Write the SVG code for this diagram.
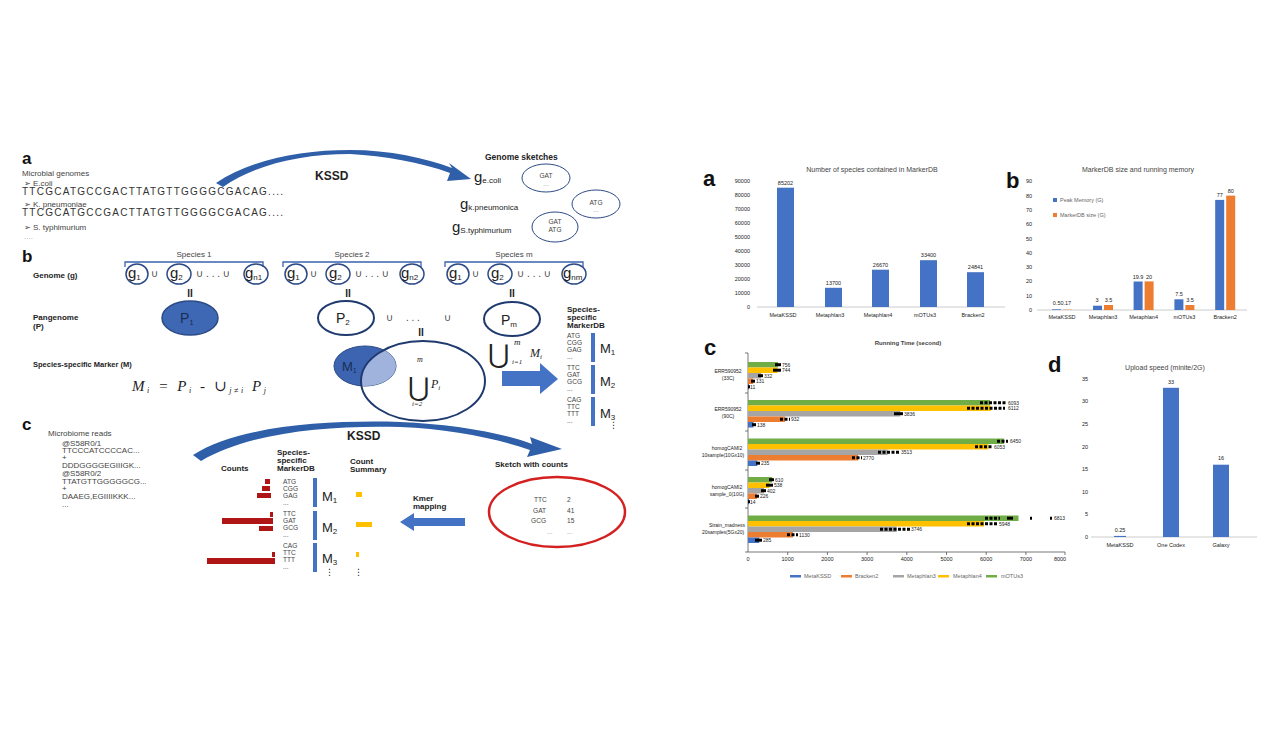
<svg xmlns="http://www.w3.org/2000/svg" width="1269" height="749" viewBox="0 0 1269 749">
<style>
text{font-family:"Liberation Sans","DejaVu Sans",Arial,sans-serif;fill:#222}
.lbl{font-weight:bold;font-size:20px;fill:#111}
.b8{font-weight:bold;font-size:8px}
.s8{font-size:8px;fill:#444}
.seq{font-size:10px;fill:#333}
.mk{font-size:6.6px;fill:#444}
.g{font-size:15px;fill:#222}
.sub{font-size:8px}
.ax{font-size:5.5px;fill:#666}
.tt{font-size:7px;fill:#444}
.vl{font-size:5.5px;fill:#555}
.math{font-family:"Liberation Serif","DejaVu Serif",serif;font-style:italic}
.ring{fill:none;stroke:#2c4a86;stroke-width:1.5}
.ring2{fill:none;stroke:#1f3a6e;stroke-width:2}
.bar{fill:#4472C4}
.org{fill:#ED7D31}
.gry{fill:#A5A5A5}
.yel{fill:#FFC000}
.grn{fill:#70AD47}
.axl{stroke:#bfbfbf;stroke-width:0.8}
.eb{stroke:#000;stroke-width:3;stroke-dasharray:3 1.5}
.ebs{stroke:#000;stroke-width:3}
</style>
<defs>
<clipPath id="bigc"><ellipse cx="423" cy="381" rx="62" ry="40"/></clipPath>
</defs>

<!-- ================= LEFT PANEL a ================= -->
<g id="left-a">
<text class="lbl" x="22" y="164" style="font-size:17px">a</text>
<text class="s8" x="22" y="176">Microbial genomes</text>
<text class="s8" x="24" y="186">➢ E.coli</text>
<text class="seq" x="22" y="195" textLength="261" lengthAdjust="spacing">TTCGCATGCCGACTTATGTTGGGGCGACAG....</text>
<text class="s8" x="24" y="207">➢ K. pneumoniae</text>
<text class="seq" x="22" y="216" textLength="261" lengthAdjust="spacing">TTCGCATGCCGACTTATGTTGGGGCGACAG....</text>
<text class="s8" x="24" y="230">➢ S. typhimurium</text>
<text class="s8" x="24" y="239" style="fill:#aaa">....</text>
</g>
<g id="kssd-arc-a">
<path d="M216,183 C250,160 300,150 350,150 C390,150 425,158 452,168 L449,163 L471,179 L447,181 L450,173 C420,162 385,156 350,154 C300,154 255,165 223,187 Z" fill="#2f5fa8"/>
<text x="315" y="180" style="font-weight:bold;font-size:12px">KSSD</text>
</g>
<g id="sketches">
<text x="485" y="160" class="b8" style="font-size:8.5px">Genome sketches</text>
<text class="g" x="474" y="182">g<tspan class="sub" dy="1">e.coli</tspan></text>
<ellipse class="ring" cx="546" cy="178" rx="24" ry="14" style="stroke-width:1"/>
<text class="mk" x="546" y="178" text-anchor="middle">GAT</text>
<text class="mk" x="546" y="186" text-anchor="middle" style="fill:#999">...</text>
<text class="g" x="460" y="209">g<tspan class="sub" dy="1">k.pneumonica</tspan></text>
<ellipse class="ring" cx="596" cy="204" rx="24" ry="14" style="stroke-width:1"/>
<text class="mk" x="596" y="205" text-anchor="middle">ATG</text>
<text class="mk" x="596" y="212" text-anchor="middle" style="fill:#999">...</text>
<text class="g" x="452" y="232">g<tspan class="sub" dy="1">S.typhimurium</tspan></text>
<ellipse class="ring" cx="555" cy="227" rx="23" ry="15" style="stroke-width:1"/>
<text class="mk" x="555" y="224" text-anchor="middle">GAT</text>
<text class="mk" x="555" y="232" text-anchor="middle">ATG</text>
</g>

<!-- ================= LEFT PANEL b ================= -->
<g id="left-b">
<text class="lbl" x="22" y="262" style="font-size:17px">b</text>
<text class="s8" x="194" y="257" text-anchor="middle">Species 1</text>
<text class="s8" x="352" y="257" text-anchor="middle">Species 2</text>
<text class="s8" x="514" y="257" text-anchor="middle">Species m</text>
<g fill="none" stroke="#3a62ad" stroke-width="1.3">
<path d="M125,267 L125,262 L263,262 L263,267"/>
<path d="M283,267 L283,262 L421,262 L421,267"/>
<path d="M445,267 L445,262 L583,262 L583,267"/>
</g>
<text class="b8" x="33" y="278">Genome (g)</text>
</g>
<g id="genomes">
<g id="sp1">
<ellipse class="ring" cx="137" cy="274" rx="11" ry="10"/><text class="g" x="128" y="278">g<tspan class="sub" dy="2">1</tspan></text>
<text class="s8" x="151" y="277" style="font-size:10px">∪</text>
<ellipse class="ring" cx="179" cy="274" rx="12" ry="10"/><text class="g" x="170" y="278">g<tspan class="sub" dy="2">2</tspan></text>
<text class="s8" x="196" y="277" style="font-size:10px">∪ . . . ∪</text>
<ellipse class="ring" cx="256" cy="274" rx="12" ry="10"/><text class="g" x="245" y="278">g<tspan class="sub" dy="2">n1</tspan></text>
</g>
<g id="sp2">
<ellipse class="ring" cx="296" cy="274" rx="11" ry="10"/><text class="g" x="287" y="278">g<tspan class="sub" dy="2">1</tspan></text>
<text class="s8" x="310" y="277" style="font-size:10px">∪</text>
<ellipse class="ring" cx="338" cy="274" rx="12" ry="10"/><text class="g" x="329" y="278">g<tspan class="sub" dy="2">2</tspan></text>
<text class="s8" x="355" y="277" style="font-size:10px">∪ . . . ∪</text>
<ellipse class="ring" cx="412" cy="274" rx="12" ry="10"/><text class="g" x="401" y="278">g<tspan class="sub" dy="2">n2</tspan></text>
</g>
<g id="spm">
<ellipse class="ring" cx="458" cy="274" rx="11" ry="10"/><text class="g" x="449" y="278">g<tspan class="sub" dy="2">1</tspan></text>
<text class="s8" x="472" y="277" style="font-size:10px">∪</text>
<ellipse class="ring" cx="500" cy="274" rx="12" ry="10"/><text class="g" x="491" y="278">g<tspan class="sub" dy="2">2</tspan></text>
<text class="s8" x="517" y="277" style="font-size:10px">∪ . . . ∪</text>
<ellipse class="ring" cx="574" cy="274" rx="12" ry="10"/><text class="g" x="563" y="278">g<tspan class="sub" dy="2">nm</tspan></text>
</g>
</g>
<g id="equals">
<text x="190" y="297" text-anchor="middle" style="font-size:10px;font-weight:bold">II</text>
<text x="348" y="297" text-anchor="middle" style="font-size:10px;font-weight:bold">II</text>
<text x="512" y="297" text-anchor="middle" style="font-size:10px;font-weight:bold">II</text>
<text x="421" y="336" text-anchor="middle" style="font-size:10px;font-weight:bold">II</text>
</g>
<g id="pangenome">
<text class="b8" x="33" y="320">Pangenome</text>
<text class="b8" x="33" y="329">(P)</text>
<ellipse cx="190" cy="318" rx="28" ry="17" fill="#3f68b4" stroke="#2c4a86" stroke-width="1.5"/>
<text x="180" y="323" style="font-size:14px;fill:#1a2d55">P<tspan style="font-size:8px" dy="2">1</tspan></text>
<ellipse class="ring2" cx="346" cy="318" rx="28" ry="17"/>
<text x="336" y="323" style="font-size:14px">P<tspan style="font-size:8px" dy="2">2</tspan></text>
<text x="386" y="321" style="font-size:10px;fill:#444">∪</text>
<text x="406" y="321" style="font-size:10px;fill:#444">. . .</text>
<text x="444" y="321" style="font-size:10px;fill:#444">∪</text>
<ellipse class="ring2" cx="512" cy="319" rx="28" ry="17"/>
<text x="501" y="325" style="font-size:14px">P<tspan style="font-size:8px" dy="2">m</tspan></text>
</g>
<g id="marker-formula">
<text class="b8" x="33" y="367" style="font-size:7.5px">Species-specific Marker (M)</text>
<text class="math" x="132" y="391" style="font-size:15px" textLength="134" lengthAdjust="spacing">M<tspan style="font-size:8px" dy="2">i</tspan><tspan dy="-2"> = P</tspan><tspan style="font-size:8px" dy="2">i</tspan><tspan dy="-2" style="font-style:normal"> - ∪</tspan><tspan style="font-size:8px" dy="2">j≠i</tspan><tspan dy="-2"> P</tspan><tspan style="font-size:8px" dy="2">j</tspan></text>
</g>
<g id="venn">
<ellipse cx="365" cy="366" rx="31" ry="20" fill="#3d64b0" stroke="#2c4a86" stroke-width="1"/>
<ellipse cx="365" cy="366" rx="31" ry="20" fill="#9fb3dc" clip-path="url(#bigc)"/>
<ellipse class="ring2" cx="423" cy="381" rx="62" ry="40"/>
<text x="342" y="371" style="font-size:13px;fill:#1a2d55">M<tspan style="font-size:7px" dy="2">1</tspan></text>
<text x="408" y="396" style="font-family:'DejaVu Serif',serif;font-size:26px">⋃</text>
<text class="math" x="417" y="362" style="font-size:8px">m</text>
<text class="math" x="412" y="406" style="font-size:7px">i=2</text>
<text class="math" x="431" y="388" style="font-size:12px">P<tspan style="font-size:7px" dy="2">i</tspan></text>
</g>
<g id="union-arrow">
<text x="488" y="363" style="font-family:'DejaVu Serif',serif;font-size:26px">⋃</text>
<text class="math" x="514" y="345" style="font-size:9px">m</text>
<text class="math" x="512" y="364" style="font-size:7px">i=1</text>
<text class="math" x="530" y="357" style="font-size:12px">M<tspan style="font-size:7px" dy="2">i</tspan></text>
<path d="M502,371 L540,371 L540,363 L558,379 L540,394 L540,386 L502,386 Z" fill="#4472C4"/>
</g>
<g id="markerdb-b">
<text class="b8" x="567" y="312">Species-</text>
<text class="b8" x="567" y="320">specific</text>
<text class="b8" x="567" y="328">MarkerDB</text>
<text class="mk" x="567" y="338">ATG</text><text class="mk" x="567" y="345">CGG</text><text class="mk" x="567" y="352">GAG</text><text class="mk" x="567" y="359">...</text>
<rect class="bar" x="591" y="333" width="4" height="29"/>
<text x="600" y="353" style="font-size:13px">M<tspan style="font-size:8px" dy="2">1</tspan></text>
<text class="mk" x="567" y="370">TTC</text><text class="mk" x="567" y="377">GAT</text><text class="mk" x="567" y="384">GCG</text><text class="mk" x="567" y="391">...</text>
<rect class="bar" x="591" y="365" width="4" height="29"/>
<text x="600" y="386" style="font-size:13px">M<tspan style="font-size:8px" dy="2">2</tspan></text>
<text class="mk" x="567" y="402">CAG</text><text class="mk" x="567" y="409">TTC</text><text class="mk" x="567" y="416">TTT</text><text class="mk" x="567" y="423">...</text>
<rect class="bar" x="591" y="397" width="4" height="29"/>
<text x="600" y="418" style="font-size:13px">M<tspan style="font-size:8px" dy="2">3</tspan></text>
<text x="609" y="428" style="font-size:9px">⋮</text>
</g>

<!-- ================= LEFT PANEL c ================= -->
<g id="left-c">
<text class="lbl" x="22" y="430" style="font-size:17px">c</text>
<text class="s8" x="48" y="436">Microbiome reads</text>
<text class="s8" x="62" y="446">@S58R0/1</text>
<text class="s8" x="62" y="453">TTCCCATCCCCAC...</text>
<text class="s8" x="62" y="460">+</text>
<text class="s8" x="62" y="468">DDDGGGGEGIIIGK...</text>
<text class="s8" x="62" y="476">@S58R0/2</text>
<text class="s8" x="62" y="484">TTATGTTGGGGGCG...</text>
<text class="s8" x="62" y="491">+</text>
<text class="s8" x="62" y="499">DAAEG,EGIIIIKKK...</text>
<text class="s8" x="62" y="507">...</text>
</g>
<g id="kssd-arc-c">
<path d="M193,455 C240,425 330,420 400,422 C450,424 500,432 532,444 L530,437 L562,449 L527,457 L530,450 C495,438 450,429 400,427 C330,425 250,432 201,461 Z" fill="#2f5fa8"/>
<text x="347" y="440" style="font-weight:bold;font-size:12px">KSSD</text>
</g>
<g id="counts">
<text class="b8" x="221" y="471">Counts</text>
<g fill="#b01515">
<rect x="265" y="479" width="5" height="5"/>
<rect x="262" y="486" width="8" height="5"/>
<rect x="257" y="493" width="14" height="5"/>
<rect x="270" y="512" width="3" height="5"/>
<rect x="222" y="518" width="51" height="6"/>
<rect x="259" y="526" width="14" height="5"/>
<rect x="272" y="552" width="3" height="5"/>
<rect x="207" y="558" width="68" height="6"/>
</g>
</g>
<g id="markerdb-c">
<text class="b8" x="277" y="455">Species-</text>
<text class="b8" x="277" y="463">specific</text>
<text class="b8" x="277" y="471">MarkerDB</text>
<text class="mk" x="283" y="484">ATG</text><text class="mk" x="283" y="491">CGG</text><text class="mk" x="283" y="498">GAG</text><text class="mk" x="283" y="505">...</text>
<rect class="bar" x="313" y="478" width="4" height="29"/>
<text x="322" y="501" style="font-size:13px">M<tspan style="font-size:8px" dy="2">1</tspan></text>
<text class="mk" x="283" y="516">TTC</text><text class="mk" x="283" y="523">GAT</text><text class="mk" x="283" y="530">GCG</text><text class="mk" x="283" y="537">...</text>
<rect class="bar" x="313" y="511" width="4" height="29"/>
<text x="322" y="532" style="font-size:13px">M<tspan style="font-size:8px" dy="2">2</tspan></text>
<text class="mk" x="283" y="548">CAG</text><text class="mk" x="283" y="555">TTC</text><text class="mk" x="283" y="562">TTT</text><text class="mk" x="283" y="569">...</text>
<rect class="bar" x="313" y="543" width="4" height="29"/>
<text x="322" y="563" style="font-size:13px">M<tspan style="font-size:8px" dy="2">3</tspan></text>
<text x="325" y="575" style="font-size:9px">⋮</text>
</g>
<g id="count-summary">
<text class="b8" x="350" y="464">Count</text>
<text class="b8" x="350" y="472">Summary</text>
<rect class="yel" x="356" y="492" width="6" height="5"/>
<rect class="yel" x="356" y="522" width="16" height="5"/>
<rect class="yel" x="356" y="552" width="3" height="5"/>
<text x="354" y="575" style="font-size:9px">⋮</text>
</g>
<g id="kmer-mapping">
<text class="b8" x="413" y="501">Kmer</text>
<text class="b8" x="413" y="509">mapping</text>
<path d="M465,518 L414,518 L414,513 L400,522 L414,531 L414,526 L465,526 Z" fill="#4472C4"/>
</g>
<g id="sketch-counts">
<text class="b8" x="495" y="467">Sketch with counts</text>
<ellipse cx="557" cy="512" rx="68" ry="35" fill="none" stroke="#d42020" stroke-width="2.5"/>
<text class="mk" x="534" y="502">TTC</text><text class="mk" x="567" y="502">2</text>
<text class="mk" x="533" y="513">GAT</text><text class="mk" x="567" y="513">41</text>
<text class="mk" x="531" y="523">GCG</text><text class="mk" x="567" y="523">15</text>
<text class="mk" x="547" y="534" style="fill:#999">...</text><text class="mk" x="567" y="534" style="fill:#999">...</text>
</g>

<!-- ================= RIGHT chart a ================= -->
<g id="chart-a">
<text class="lbl" x="703" y="186" style="font-size:22px">a</text>
<text class="tt" x="872" y="172" text-anchor="middle">Number of species contained in MarkerDB</text>
<g class="ax" text-anchor="end">
<text x="750" y="309">0</text><text x="750" y="295">10000</text><text x="750" y="281">20000</text><text x="750" y="267">30000</text><text x="750" y="253">40000</text><text x="750" y="239">50000</text><text x="750" y="225">60000</text><text x="750" y="211">70000</text><text x="750" y="197">80000</text><text x="750" y="183">90000</text>
</g>
<line class="axl" x1="757" y1="307" x2="1005" y2="307"/>
<rect class="bar" x="777" y="187.7" width="17" height="119.3"/>
<rect class="bar" x="825" y="287.8" width="17" height="19.2"/>
<rect class="bar" x="872" y="269.7" width="17" height="37.3"/>
<rect class="bar" x="920" y="260.2" width="17" height="46.8"/>
<rect class="bar" x="967" y="272.2" width="17" height="34.8"/>
<g class="vl" text-anchor="middle">
<text x="785.5" y="185">85202</text><text x="833.5" y="285">13700</text><text x="880.5" y="267">26670</text><text x="928.5" y="257">33400</text><text x="975.5" y="269">24841</text>
</g>
<g class="ax" text-anchor="middle">
<text x="783" y="317">MetaKSSD</text><text x="830" y="317">Metaphlan3</text><text x="878" y="317">Metaphlan4</text><text x="925" y="317">mOTUs3</text><text x="973" y="317">Bracken2</text>
</g>
</g>

<!-- ================= RIGHT chart b ================= -->
<g id="chart-b">
<text class="lbl" x="1006" y="188" style="font-size:22px">b</text>
<text class="tt" x="1138" y="172" text-anchor="middle">MarkerDB size and running memory</text>
<g class="ax" text-anchor="end">
<text x="1032" y="312">0</text><text x="1032" y="298">10</text><text x="1032" y="283">20</text><text x="1032" y="269">30</text><text x="1032" y="255">40</text><text x="1032" y="241">50</text><text x="1032" y="226">60</text><text x="1032" y="212">70</text><text x="1032" y="198">80</text><text x="1032" y="183">90</text>
</g>
<rect class="bar" x="1053" y="198" width="4" height="4"/>
<text class="ax" x="1060" y="202">Peak Memory (G)</text>
<rect class="org" x="1053" y="213" width="4" height="4"/>
<text class="ax" x="1060" y="217">MarkerDB size (G)</text>
<line class="axl" x1="1037" y1="310" x2="1247" y2="310"/>
<rect class="bar" x="1052" y="309.3" width="9" height="0.7"/>
<rect class="org" x="1063" y="309.7" width="9" height="0.3"/>
<rect class="bar" x="1093" y="305.7" width="9" height="4.3"/>
<rect class="org" x="1104" y="305" width="9" height="5"/>
<rect class="bar" x="1133.6" y="281.5" width="9" height="28.5"/>
<rect class="org" x="1144.6" y="281.4" width="9" height="28.6"/>
<rect class="bar" x="1174.4" y="299.3" width="9" height="10.7"/>
<rect class="org" x="1185.4" y="305" width="9" height="5"/>
<rect class="bar" x="1215.2" y="199.9" width="9" height="110.1"/>
<rect class="org" x="1226.2" y="195.6" width="9" height="114.4"/>
<g class="vl" text-anchor="middle">
<text x="1062" y="305">0.50.17</text>
<text x="1097" y="302">3</text><text x="1108.5" y="302">3.5</text>
<text x="1138" y="279">19.9</text><text x="1149" y="279">20</text>
<text x="1179" y="296">7.5</text><text x="1190" y="302">3.5</text>
<text x="1219.7" y="197">77</text><text x="1230.7" y="193">80</text>
</g>
<g class="ax" text-anchor="middle">
<text x="1062" y="319">MetaKSSD</text><text x="1103" y="319">Metaphlan3</text><text x="1143.6" y="319">Metaphlan4</text><text x="1184.4" y="319">mOTUs3</text><text x="1225.2" y="319">Bracken2</text>
</g>
</g>

<!-- ================= RIGHT chart c ================= -->
<g id="chart-c">
<text class="lbl" x="704" y="355" style="font-size:22px">c</text>
<text class="tt" x="908" y="345" text-anchor="middle" style="font-weight:bold;font-size:6px">Running Time (second)</text>
<line x1="748" y1="353" x2="748" y2="552" stroke="#555" stroke-width="0.8"/>
<line x1="748" y1="552" x2="1065" y2="552" stroke="#555" stroke-width="0.8"/>
<g stroke="#555" stroke-width="0.8">
<line x1="745" y1="353" x2="748" y2="353"/><line x1="745" y1="393" x2="748" y2="393"/><line x1="745" y1="431" x2="748" y2="431"/><line x1="745" y1="470" x2="748" y2="470"/><line x1="745" y1="508" x2="748" y2="508"/><line x1="745" y1="552" x2="748" y2="552"/>
<line x1="787.7" y1="552" x2="787.7" y2="555"/><line x1="827.4" y1="552" x2="827.4" y2="555"/><line x1="867.1" y1="552" x2="867.1" y2="555"/><line x1="906.8" y1="552" x2="906.8" y2="555"/><line x1="946.5" y1="552" x2="946.5" y2="555"/><line x1="986.2" y1="552" x2="986.2" y2="555"/><line x1="1025.9" y1="552" x2="1025.9" y2="555"/><line x1="1065" y1="552" x2="1065" y2="555"/>
</g>
<g class="ax" text-anchor="middle">
<text x="748" y="561">0</text><text x="787.7" y="561">1000</text><text x="827.4" y="561">2000</text><text x="867.1" y="561">3000</text><text x="906.8" y="561">4000</text><text x="946.5" y="561">5000</text><text x="986.2" y="561">6000</text><text x="1025.9" y="561">7000</text><text x="1060" y="561">8000</text>
</g>
<g class="ax" text-anchor="middle" style="font-size:5px">
<text x="728" y="373">ERR590952</text><text x="728" y="380">(33C)</text>
<text x="728" y="411">ERR590952</text><text x="728" y="418">(90C)</text>
<text x="727" y="450">homogCAMI2</text><text x="723" y="457">10sample(10Gx10)</text>
<text x="727" y="489">homogCAMI2</text><text x="727" y="496">sample_0(10G)</text>
<text x="727" y="527">Strain_madness</text><text x="723" y="534">20samples(5Gx20)</text>
</g>
<!-- group 1 -->
<rect class="grn" x="748" y="362" width="30" height="5.5"/>
<rect class="yel" x="748" y="367.5" width="29.5" height="5.5"/>
<rect class="gry" x="748" y="373" width="13.2" height="5.5"/>
<rect class="org" x="748" y="378.5" width="5.2" height="5.5"/>
<rect class="bar" x="748" y="384" width="1" height="5.5"/>
<!-- group 2 -->
<rect class="grn" x="748" y="400" width="241.9" height="5.5"/>
<rect class="yel" x="748" y="405.5" width="242.6" height="5.5"/>
<rect class="gry" x="748" y="411" width="152.3" height="5.5"/>
<rect class="org" x="748" y="416.5" width="37" height="5.5"/>
<rect class="bar" x="748" y="422" width="5.5" height="5.5"/>
<!-- group 3 -->
<rect class="grn" x="748" y="438.5" width="256.1" height="5.5"/>
<rect class="yel" x="748" y="444" width="240.3" height="5.5"/>
<rect class="gry" x="748" y="449.5" width="139.5" height="5.5"/>
<rect class="org" x="748" y="455" width="110" height="5.5"/>
<rect class="bar" x="748" y="460.5" width="9.3" height="5.5"/>
<!-- group 4 -->
<rect class="grn" x="748" y="477" width="24.2" height="5.5"/>
<rect class="yel" x="748" y="482.5" width="21.4" height="5.5"/>
<rect class="gry" x="748" y="488" width="16" height="5.5"/>
<rect class="org" x="748" y="493.5" width="9" height="5.5"/>
<rect class="bar" x="748" y="499" width="1" height="5.5"/>
<!-- group 5 -->
<rect class="grn" x="748" y="515.5" width="270.5" height="5.5"/>
<rect class="yel" x="748" y="521" width="236.1" height="5.5"/>
<rect class="gry" x="748" y="526.5" width="148.7" height="5.5"/>
<rect class="org" x="748" y="532" width="44.9" height="5.5"/>
<rect class="bar" x="748" y="537.5" width="11.3" height="5.5"/>
<!-- error bars -->
<g>
<line class="ebs" x1="775" y1="364.7" x2="781" y2="364.7"/>
<line class="ebs" x1="773" y1="370.2" x2="781" y2="370.2"/>
<line class="ebs" x1="758" y1="375.7" x2="763" y2="375.7"/>
<line class="ebs" x1="751" y1="381.2" x2="755" y2="381.2"/>
<line class="ebs" x1="748" y1="386.7" x2="750" y2="386.7"/>
<line class="eb" x1="980" y1="402.7" x2="1006" y2="402.7"/>
<line class="eb" x1="967" y1="408.2" x2="1005" y2="408.2"/>
<line class="ebs" x1="894" y1="413.7" x2="903" y2="413.7"/>
<line class="eb" x1="780" y1="419.2" x2="790" y2="419.2"/>
<line class="ebs" x1="752" y1="424.7" x2="756" y2="424.7"/>
<line class="eb" x1="997" y1="441.2" x2="1008" y2="441.2"/>
<line class="eb" x1="975" y1="446.7" x2="993" y2="446.7"/>
<line class="eb" x1="878" y1="452.2" x2="900" y2="452.2"/>
<line class="eb" x1="852" y1="457.7" x2="862" y2="457.7"/>
<line class="ebs" x1="756" y1="463.2" x2="760" y2="463.2"/>
<line class="ebs" x1="769" y1="479.7" x2="774" y2="479.7"/>
<line class="ebs" x1="766" y1="485.2" x2="773" y2="485.2"/>
<line class="ebs" x1="761" y1="490.7" x2="766" y2="490.7"/>
<line class="ebs" x1="755" y1="496.2" x2="759" y2="496.2"/>
<line class="ebs" x1="748" y1="501.7" x2="750" y2="501.7"/>
<line class="eb" x1="985" y1="518.2" x2="1000" y2="518.2"/>
<line class="ebs" x1="1007" y1="518.2" x2="1013" y2="518.2"/>
<line class="ebs" x1="1030" y1="518.2" x2="1032" y2="518.2"/>
<line class="ebs" x1="1050" y1="518.2" x2="1052" y2="518.2"/>
<line class="eb" x1="967" y1="523.7" x2="998" y2="523.7"/>
<line class="eb" x1="880" y1="529.2" x2="910" y2="529.2"/>
<line class="eb" x1="787" y1="534.7" x2="798" y2="534.7"/>
<line class="ebs" x1="755" y1="540.2" x2="762" y2="540.2"/>
</g>
<g class="vl" style="font-size:5px">
<text x="782" y="366.5">756</text><text x="782" y="372">744</text><text x="764" y="377.5">332</text><text x="756" y="383">131</text><text x="750" y="388.5">11</text>
<text x="1008" y="404.5">6093</text><text x="1008" y="410">6112</text><text x="904" y="415.5">3836</text><text x="791" y="421">932</text><text x="757" y="426.5">138</text>
<text x="1010" y="443">6450</text><text x="994" y="448.5">6053</text><text x="901" y="454">3513</text><text x="863" y="459.5">2770</text><text x="761" y="465">235</text>
<text x="775" y="481.5">610</text><text x="774" y="487">538</text><text x="767" y="492.5">402</text><text x="760" y="498">226</text><text x="750" y="503.5">14</text>
<text x="1054" y="520">6813</text><text x="999" y="525.5">5948</text><text x="911" y="531">3746</text><text x="799" y="536.5">1130</text><text x="763" y="542">285</text>
</g>
<!-- legend -->
<g>
<rect class="bar" x="790" y="575" width="11" height="2.5"/><text class="ax" x="804" y="578">MetaKSSD</text>
<rect class="org" x="841" y="575" width="11" height="2.5"/><text class="ax" x="855" y="578">Bracken2</text>
<rect class="gry" x="893" y="575" width="11" height="2.5"/><text class="ax" x="907" y="578">Metaphlan3</text>
<rect class="yel" x="938" y="575" width="11" height="2.5"/><text class="ax" x="953" y="578">Metaphlan4</text>
<rect class="grn" x="986" y="575" width="11" height="2.5"/><text class="ax" x="1001" y="578">mOTUs3</text>
</g>
</g>

<!-- ================= RIGHT chart d ================= -->
<g id="chart-d">
<text class="lbl" x="1048" y="372" style="font-size:22px">d</text>
<text class="tt" x="1165" y="370" text-anchor="middle">Upload speed (minite/2G)</text>
<g class="ax" text-anchor="end">
<text x="1088" y="539">0</text><text x="1088" y="516.4">5</text><text x="1088" y="493.8">10</text><text x="1088" y="471.2">15</text><text x="1088" y="448.6">20</text><text x="1088" y="426">25</text><text x="1088" y="403.4">30</text><text x="1088" y="380.8">35</text>
</g>
<line class="axl" x1="1091" y1="537" x2="1257" y2="537"/>
<rect class="bar" x="1114" y="535.9" width="12" height="1.1"/>
<rect class="bar" x="1163" y="387.8" width="16" height="149.2"/>
<rect class="bar" x="1213" y="464.7" width="16" height="72.3"/>
<g class="vl" text-anchor="middle">
<text x="1120" y="532">0.25</text><text x="1171" y="384">33</text><text x="1221" y="460">16</text>
</g>
<g class="ax" text-anchor="middle">
<text x="1120" y="547">MetaKSSD</text><text x="1171" y="547">One Codex</text><text x="1221" y="547">Galaxy</text>
</g>
</g>
</svg>
